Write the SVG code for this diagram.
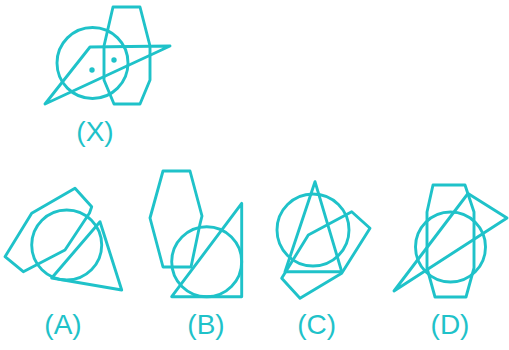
<svg xmlns="http://www.w3.org/2000/svg" width="509" height="350" viewBox="0 0 509 350">
<style>
.s{fill:none;stroke:#1fc2c9;stroke-width:2.9;stroke-linejoin:round;stroke-linecap:round}
.d{fill:#1fc2c9}
.t{font-family:"Liberation Sans",Arial,sans-serif;font-size:28px;fill:#1fc2c9;text-anchor:middle}
</style>
<rect width="509" height="350" fill="#ffffff"/>
<g id="figX">
<circle class="s" cx="92.5" cy="63" r="35.5"/>
<polygon class="s" points="113,7 140,7 150,46 150,80 140,104 114,104 104,80 104,46"/>
<polygon class="s" points="45,104 90,47 170,46"/>
<circle class="d" cx="92" cy="70" r="2.7"/>
<circle class="d" cx="114" cy="60" r="2.7"/>
<text class="t" x="95" y="141">(X)</text>
</g>
<g id="figA">
<polygon class="s" points="31.7,213.3 75,188.3 91.7,206.7 89.5,213 65,250 23.3,271.7 5,256.7"/>
<circle class="s" cx="66.7" cy="245" r="35"/>
<polygon class="s" points="100,221.7 121.7,290 51.7,278"/>
<text class="t" x="63" y="334">(A)</text>
</g>
<g id="figB">
<polygon class="s" points="163,171 190,171 202,216 200,224 191,267 163,267 150,218"/>
<circle class="s" cx="206.7" cy="261.7" r="35"/>
<polygon class="s" points="241.7,203.3 241.7,296.7 171.7,296.7"/>
<text class="t" x="206" y="334">(B)</text>
</g>
<g id="figC">
<circle class="s" cx="313" cy="230" r="36"/>
<polygon class="s" points="315,181.7 341.7,271.7 285,271.7"/>
<polygon class="s" points="351.7,211.7 370,228.3 341.7,273.3 300,298.3 281.7,278.3 308.3,235"/>
<text class="t" x="316.7" y="334">(C)</text>
</g>
<g id="figD">
<polygon class="s" points="433,185 465,185 474,212 474,268 466,297 435,297 427,268 427,212"/>
<circle class="s" cx="450.5" cy="247" r="35"/>
<polygon class="s" points="394,291 468,193.5 507,218"/>
<text class="t" x="450" y="334">(D)</text>
</g>
<g id="connectors"/>
</svg>
